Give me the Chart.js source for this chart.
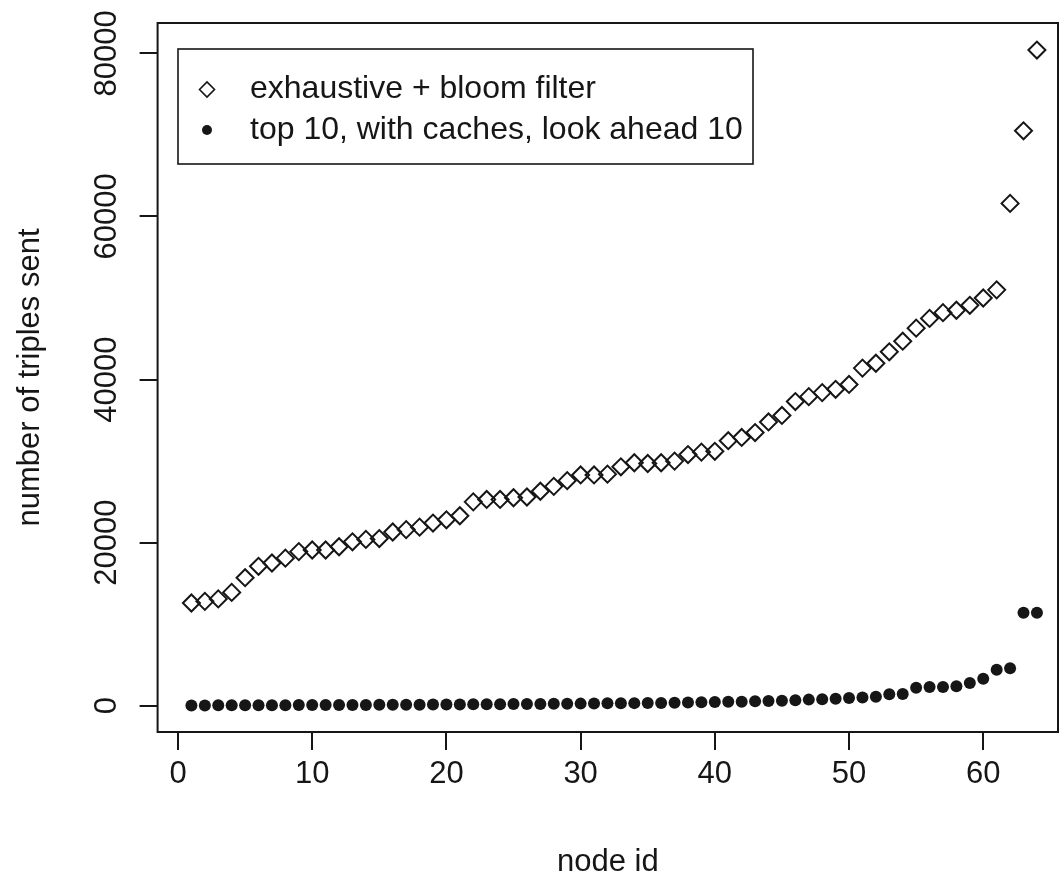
<!DOCTYPE html>
<html>
<head>
<meta charset="utf-8">
<script src="https://cdn.jsdelivr.net/npm/chart.js@4.4.0/dist/chart.umd.min.js"></script>
<style>
  html, body { margin: 0; padding: 0; background: #fff; overflow: hidden; }
</style>
</head>
<body>
<canvas id="chart" width="1060" height="883"></canvas>
<script>
const nodeIds = [1, 2, 3, 4, 5, 6, 7, 8, 9, 10, 11, 12, 13, 14, 15, 16,
  17, 18, 19, 20, 21, 22, 23, 24, 25, 26, 27, 28, 29, 30, 31, 32,
  33, 34, 35, 36, 37, 38, 39, 40, 41, 42, 43, 44, 45, 46, 47, 48,
  49, 50, 51, 52, 53, 54, 55, 56, 57, 58, 59, 60, 61, 62, 63, 64];

const bloomTriples = [12600, 12800, 13100, 13900, 15700, 17100, 17500, 18100,
  18900, 19100, 19100, 19500, 20100, 20400, 20500, 21300,
  21600, 21900, 22400, 22800, 23300, 25000, 25300, 25300,
  25500, 25600, 26300, 26900, 27600, 28300, 28300, 28400,
  29300, 29800, 29700, 29800, 30000, 30800, 31100, 31200,
  32500, 32900, 33500, 34800, 35600, 37300, 37900, 38400,
  38800, 39400, 41400, 42000, 43400, 44700, 46300, 47500,
  48200, 48500, 49100, 50000, 51000, 61600, 70500, 80400];

const top10Triples = [30, 40, 50, 50, 60, 60, 70, 70,
  80, 80, 90, 90, 100, 100, 110, 120,
  120, 130, 140, 150, 160, 170, 180, 190,
  200, 210, 220, 230, 250, 260, 280, 300,
  310, 320, 340, 350, 380, 400, 420, 450,
  480, 500, 550, 580, 620, 660, 750, 800,
  850, 950, 1000, 1100, 1400, 1450, 2200, 2300,
  2300, 2400, 2800, 3300, 4400, 4600, 11400, 11400];

const seriesNames = ['exhaustive + bloom filter', 'top 10, with caches, look ahead 10'];
const xTicks = [0, 10, 20, 30, 40, 50, 60];
const yTicks = [0, 20000, 40000, 60000, 80000];

const ink = '#161616';
const fontFamily = '"Liberation Sans", Arial, Helvetica, sans-serif';
Chart.defaults.font.family = fontFamily;
Chart.defaults.font.size = 31;
Chart.defaults.color = ink;

// R style box around the plot region plus the boxed legend in the top left
const framePlugin = {
  id: 'frame',
  afterDatasetsDraw(chart) {
    const { ctx, chartArea: a } = chart;
    ctx.save();
    ctx.strokeStyle = ink;
    ctx.lineWidth = 2;
    ctx.strokeRect(a.left, a.top, a.right - a.left, a.bottom - a.top);

    const lx = a.left + 20.4, ly = a.top + 26, lw = 575, lh = 115;
    ctx.lineWidth = 1.6;
    ctx.strokeRect(lx, ly, lw, lh);

    const rows = [66.5, 107];
    const sizes = [7.5, 5];
    chart.data.datasets.forEach((ds, i) => {
      const cx = a.left + 49.4, cy = a.top + rows[i];
      ctx.strokeStyle = ink;
      ctx.fillStyle = ds.pointBackgroundColor;
      Chart.helpers.drawPoint(ctx, {
        pointStyle: ds.pointStyle, radius: sizes[i], borderWidth: i === 0 ? 1.8 : 0
      }, cx, cy);
      ctx.fillStyle = ink;
      ctx.font = '32px ' + fontFamily;
      ctx.textAlign = 'left';
      ctx.textBaseline = 'middle';
      ctx.fillText(ds.label, a.left + 92.4, cy);
    });
    ctx.restore();
  }
};

new Chart(document.getElementById('chart'), {
  type: 'scatter',
  data: {
    datasets: [
      {
        label: seriesNames[0],
        data: nodeIds.map((id, i) => ({ x: id, y: bloomTriples[i] })),
        pointStyle: 'rectRot',
        pointRadius: 8.5,
        pointBorderWidth: 2,
        pointBorderColor: ink,
        pointBackgroundColor: 'rgba(0,0,0,0)'
      },
      {
        label: seriesNames[1],
        data: nodeIds.map((id, i) => ({ x: id, y: top10Triples[i] })),
        pointStyle: 'circle',
        pointRadius: 6,
        pointBorderWidth: 0,
        pointBackgroundColor: ink
      }
    ]
  },
  options: {
    responsive: false,
    animation: false,
    events: [],
    layout: { autoPadding: false, padding: { left: 0, top: 23, right: 2, bottom: 0 } },
    plugins: {
      legend: { display: false },
      tooltip: { enabled: false }
    },
    scales: {
      x: {
        type: 'linear',
        min: -1.52,
        max: 65.57,
        afterBuildTicks: s => { s.ticks = xTicks.map(v => ({ value: v })); },
        afterFit: s => { s.height = 151; s.paddingLeft = 0; s.paddingRight = 0; },
        grid: { display: true, drawOnChartArea: false, drawTicks: true, tickLength: 18, color: ink, lineWidth: 2 },
        border: { display: false },
        ticks: { autoSkip: false, maxRotation: 0, padding: 6, color: ink, callback: v => String(v) },
        title: { display: true, text: 'node id', color: ink, padding: { top: 0, bottom: 2.4 } }
      },
      y: {
        type: 'linear',
        min: -3220,
        max: 83720,
        afterBuildTicks: s => { s.ticks = yTicks.map(v => ({ value: v })); },
        afterFit: s => { s.width = 157.6; s.paddingTop = 0; s.paddingBottom = 0; },
        grid: { display: true, drawOnChartArea: false, drawTicks: true, tickLength: 18, color: ink, lineWidth: 2 },
        border: { display: false },
        ticks: { autoSkip: false, minRotation: 90, maxRotation: 90, crossAlign: 'center', padding: -11, color: ink, callback: v => String(v) },
        title: { display: true, text: 'number of triples sent', color: ink, padding: { top: 12, bottom: 0 } }
      }
    }
  },
  plugins: [framePlugin]
});
</script>
</body>
</html>
